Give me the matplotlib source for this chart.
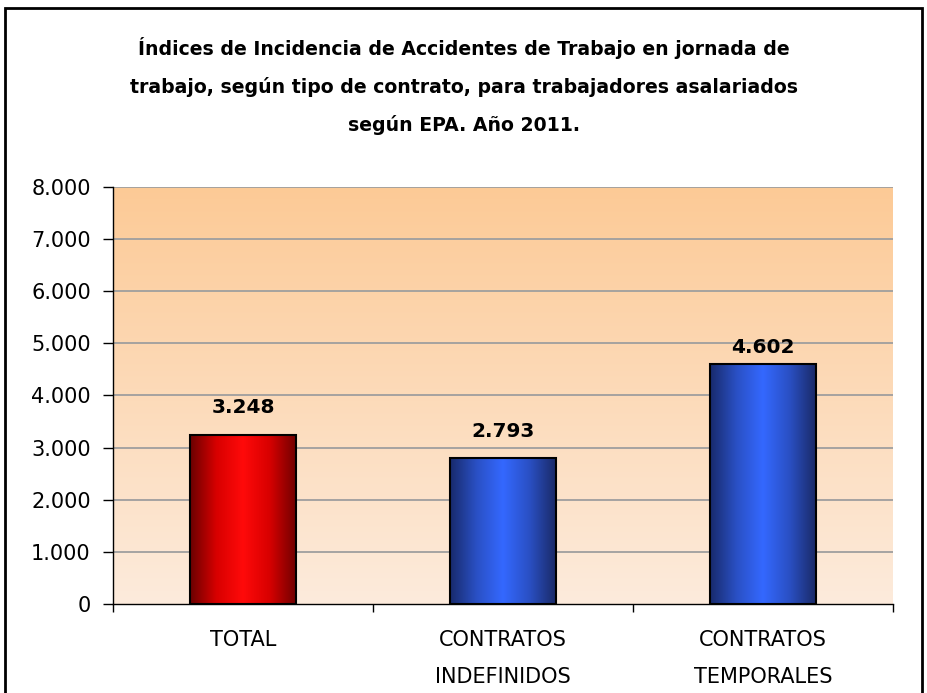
import matplotlib
matplotlib.use("Agg")
import matplotlib.pyplot as plt
import numpy as np
from matplotlib.colors import LinearSegmentedColormap
from matplotlib.patches import Rectangle

categories = ["TOTAL", "CONTRATOS\nINDEFINIDOS", "CONTRATOS\nTEMPORALES"]
values = [3248, 2793, 4602]
yticks = [0, 1000, 2000, 3000, 4000, 5000, 6000, 7000, 8000]
ytick_labels = ["0", "1.000", "2.000", "3.000", "4.000", "5.000", "6.000", "7.000", "8.000"]
title = ("Índices de Incidencia de Accidentes de Trabajo en jornada de\n"
         "trabajo, según tipo de contrato, para trabajadores asalariados\n"
         "según EPA. Año 2011.")

# label offsets in points (style only)
label_offsets = [12.5, 12.5, 5]

plt.rcParams['font.family'] = ['DejaVu Sans']

fig = plt.figure(figsize=(9.28, 6.93), dpi=100)
fig.patch.set_facecolor('white')
ax = fig.add_axes([0.1218, 0.1284, 0.8405, 0.6018])

# figure border
fig.patches.append(Rectangle((0.0054, -0.02), 0.9881, 1.0085, transform=fig.transFigure,
                             fill=False, edgecolor='black', linewidth=2, zorder=10))

ax.set_xlim(-0.5, 2.5)
ax.set_ylim(0, 8000)

# background gradient
bg = LinearSegmentedColormap.from_list('bg', ['#FDEBDC', '#FCCA96'])
grad = np.linspace(0, 1, 256).reshape(-1, 1)
ax.imshow(grad, cmap=bg, aspect='auto', origin='lower',
          extent=[-0.5, 2.5, 0, 8000], zorder=0)

# gridlines
for t in yticks[1:]:
    ax.axhline(t, color='#9E9E9E', linewidth=1.3, zorder=1)

red_cm = LinearSegmentedColormap.from_list('r', ['#6A0000', '#D80000', '#FF0A0A', '#D80000', '#720000'])
blue_cm = LinearSegmentedColormap.from_list('b', ['#182A6C', '#2A50C4', '#3468FF', '#2A50C4', '#1A2A68'])
cmaps = [red_cm, blue_cm, blue_cm]

x = np.arange(len(categories))
width = 0.405
bars = ax.bar(x, values, width=width, facecolor='none', edgecolor='black',
              linewidth=1.5, zorder=3)
hgrad = np.linspace(0, 1, 256).reshape(1, -1)
for b, cm in zip(bars, cmaps):
    x0 = b.get_x()
    im = ax.imshow(hgrad, cmap=cm, aspect='auto',
                   extent=[x0, x0 + b.get_width(), 0, b.get_height()], zorder=2)
    im.set_clip_path(b)

for xi, v, off in zip(x, values, label_offsets):
    lbl = f"{v:,}".replace(",", ".")
    ax.annotate(lbl, (xi, v), xytext=(0, off), textcoords='offset points',
                ha='center', va='bottom', fontsize=14.5, fontweight='bold', zorder=5)

ax.set_yticks(yticks)
ax.set_yticklabels(ytick_labels, fontsize=15)
ax.tick_params(axis='y', direction='out', length=7, width=1, pad=9)

ax.set_xticks([-0.5, 0.5, 1.5, 2.5])
ax.set_xticklabels([])
ax.tick_params(axis='x', which='major', direction='out', length=6, width=1)
ax.set_xticks(x, minor=True)
ax.set_xticklabels(categories, minor=True, fontsize=15, linespacing=2.05, va='top')
ax.tick_params(axis='x', which='minor', length=0, pad=19)

for s in ['top', 'right']:
    ax.spines[s].set_visible(False)
ax.spines['left'].set_linewidth(1)
ax.spines['bottom'].set_linewidth(1)

fig.text(0.5, 1 - 86 / 693, title, ha='center', va='center', fontsize=13.6,
         fontweight='bold', linespacing=2.1)

fig.savefig('out.png', dpi=100)
